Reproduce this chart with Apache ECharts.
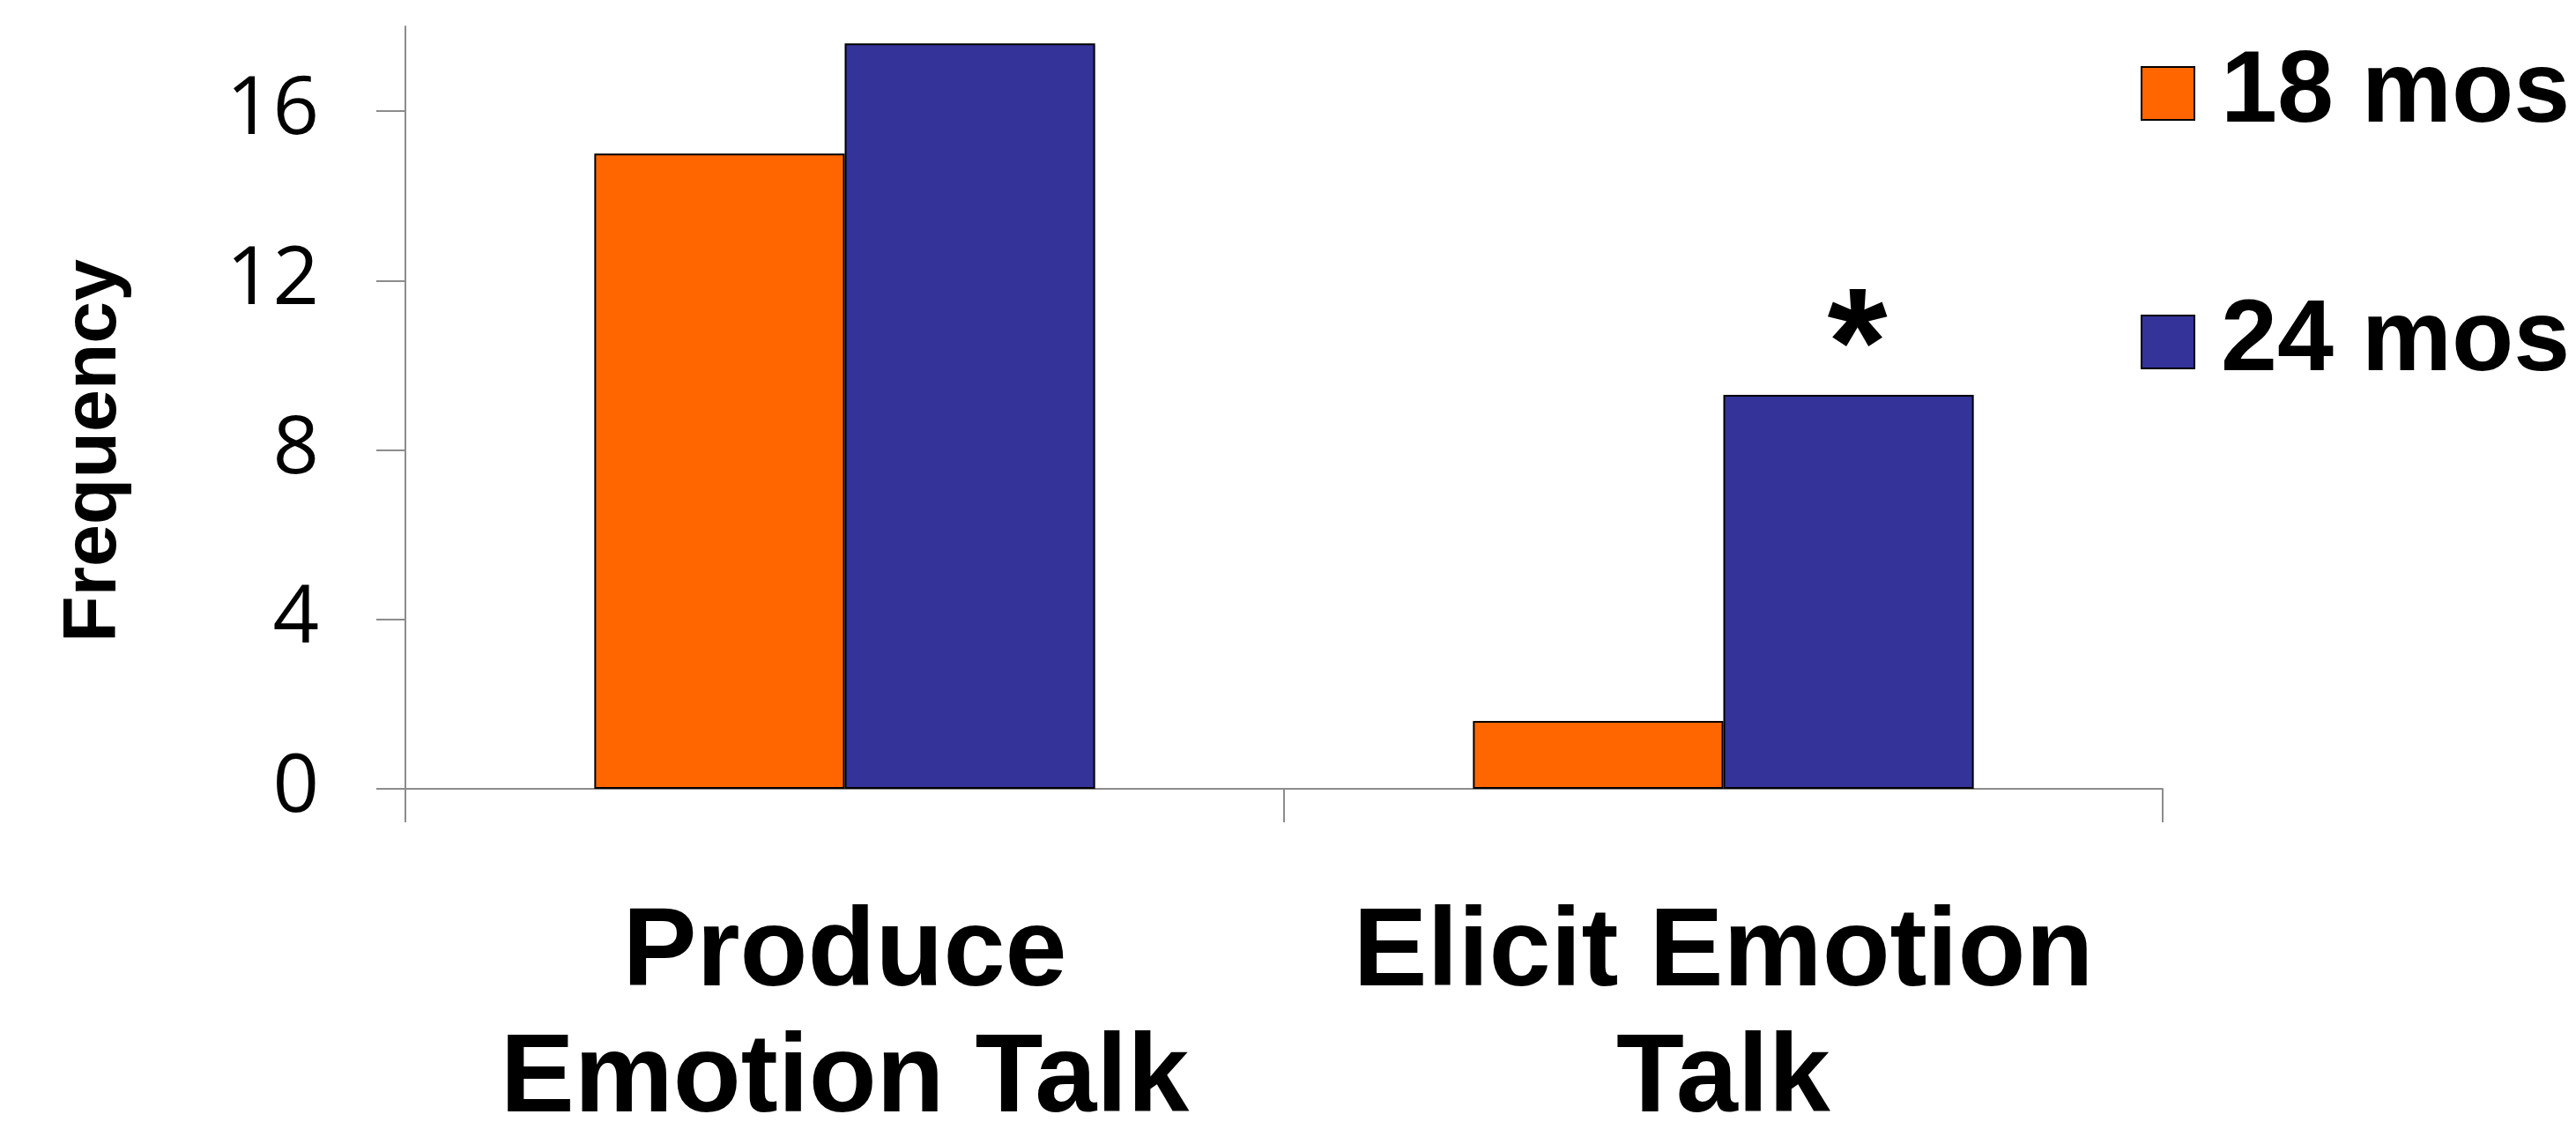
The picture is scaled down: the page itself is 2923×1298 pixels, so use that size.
<!DOCTYPE html>
<html>
<head>
<meta charset="utf-8">
<script src="https://cdn.jsdelivr.net/npm/echarts@6/dist/echarts.min.js"></script>
<style>
  html, body { margin: 0; padding: 0; background: #fff; }
  #chart { width: 2923px; height: 1298px; }
</style>
</head>
<body>
<div id="chart"></div>
<script>
// data
const categories = ["Produce\nEmotion Talk", "Elicit Emotion\nTalk"];
const seriesNames = ["18 mos", "24 mos"];
const values18 = [15.0, 1.6];
const values24 = [17.6, 9.3];
const yTicks = [0, 4, 8, 12, 16];
const marks24 = ["", "*"]; // significance marks over the 24 mos bars

const axisGray = "#8c8c8c";

const chart = echarts.init(document.getElementById("chart"));

const barStyle = (color) => ({ color: color, borderColor: "#000", borderWidth: 2 });

chart.setOption({
  animation: false,
  grid: { left: 460, right: 469, top: 30, bottom: 382, containLabel: false },
  legend: {
    orient: "vertical",
    left: 2424,
    top: 36,
    itemWidth: 60,
    itemHeight: 60,
    itemGap: 152,
    icon: "rect",
    data: seriesNames,
    textStyle: {
      fontFamily: "Liberation Sans",
      fontWeight: "bold",
      fontSize: 115,
      lineHeight: 130,
      color: "#000",
      padding: [0, 0, 0, 25],
    },
  },
  xAxis: {
    type: "category",
    data: categories,
    axisLine: { lineStyle: { color: axisGray, width: 2 } },
    axisTick: { show: true, length: 38, alignWithLabel: false, lineStyle: { color: axisGray, width: 2 } },
    axisLabel: {
      interval: 0,
      margin: 117,
      fontFamily: "Liberation Sans",
      fontWeight: "bold",
      fontSize: 126,
      lineHeight: 143,
      color: "#000",
    },
  },
  yAxis: {
    type: "value",
    min: 0,
    max: 18,
    interval: 4,
    name: "Frequency",
    nameLocation: "middle",
    nameRotate: 90,
    nameGap: 310,
    nameTextStyle: {
      fontFamily: "Liberation Sans",
      fontWeight: "bold",
      fontSize: 86,
      color: "#000",
      padding: [0, 98, 0, 0],
    },
    axisLine: { show: true, lineStyle: { color: axisGray, width: 2 } },
    axisTick: { show: true, length: 33, customValues: yTicks, lineStyle: { color: axisGray, width: 2 } },
    axisLabel: {
      customValues: yTicks,
      margin: 98,
      fontFamily: "Open Sans",
      fontSize: 92,
      color: "#000",
    },
    splitLine: { show: false },
  },
  series: [
    {
      name: seriesNames[0],
      type: "bar",
      data: values18,
      itemStyle: barStyle("#FF6600"),
      barGap: "0%",
      barCategoryGap: "43%",
    },
    {
      name: seriesNames[1],
      type: "bar",
      data: values24.map((v, i) => ({
        value: v,
        label: {
          show: marks24[i] !== "",
          formatter: marks24[i],
          position: "top",
          distance: 0,
          offset: [10, 39],
          fontFamily: "Liberation Sans",
          fontWeight: "bold",
          fontSize: 175,
          lineHeight: 175,
          color: "#000",
        },
      })),
      itemStyle: barStyle("#333399"),
      barGap: "0%",
      barCategoryGap: "43%",
    },
  ],
});
</script>
</body>
</html>
